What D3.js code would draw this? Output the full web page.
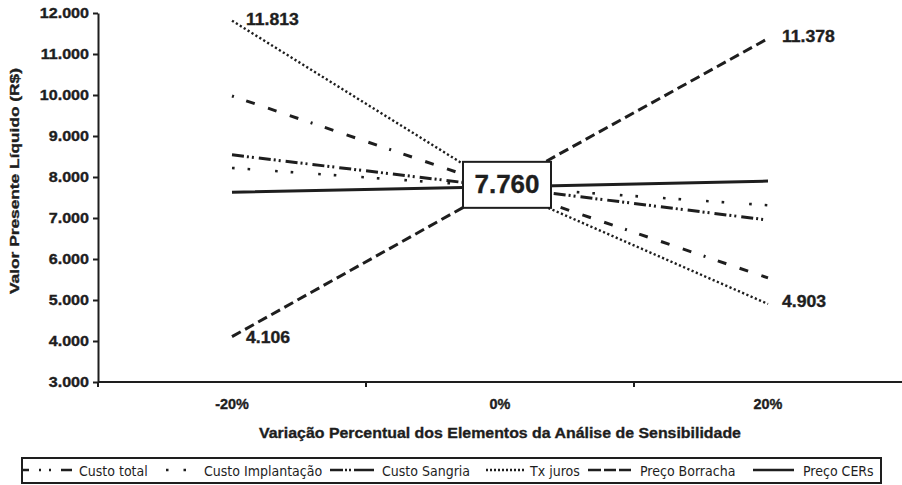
<!DOCTYPE html>
<html>
<head>
<meta charset="utf-8">
<script src="https://cdn.jsdelivr.net/npm/d3@7"></script>
<style>
  html, body { margin: 0; padding: 0; background: #fff; }
  svg { display: block; }
  .num { font-family: "Liberation Sans", Arial, sans-serif; font-weight: bold; fill: #1e1e1e;
         stroke: #1e1e1e; stroke-width: 0.35px; paint-order: stroke; }
  .leg { font-family: "DejaVu Sans Condensed", "DejaVu Sans", sans-serif; font-stretch: condensed; fill: #1e1e1e; }
</style>
</head>
<body>
<svg id="chart" width="902" height="485"></svg>
<script>
// Sensitivity scenarios along the x axis
const categories = ["-20%", "0%", "20%"];

// Net present value (R$) for each element at -20%, 0% and +20%
const custoTotal       = [9976, 7760, 5540];
const custoImplantacao = [8220, 7760, 7310];
const custoSangria     = [8540, 7760, 6950];
const txJuros          = [11813, 7760, 4903];
const precoBorracha    = [4106, 7760, 11378];
const precoCERs        = [7630, 7760, 7900];

const seriesNames = ["Custo total", "Custo Implantação", "Custo Sangria", "Tx juros", "Preço Borracha", "Preço CERs"];
const yTicks = [3000, 4000, 5000, 6000, 7000, 8000, 9000, 10000, 11000, 12000];
const baseValue = 7760;

const series = [
  { name: seriesNames[0], values: custoTotal },
  { name: seriesNames[1], values: custoImplantacao },
  { name: seriesNames[2], values: custoSangria },
  { name: seriesNames[3], values: txJuros },
  { name: seriesNames[4], values: precoBorracha },
  { name: seriesNames[5], values: precoCERs }
];

// Line styles per series: chart stroke pattern and legend sample pattern
const styles = {
  "Custo total":       { w: 3,   dash: "2,13,9,14,9,14,9,13", legDash: "6,10,2,8,2,10,11", legLen: 49 },
  "Custo Implantação": { w: 2.6, dash: "2.6,13,2.6,25",       legDash: "2.5,15,2.5",        legLen: 20 },
  "Custo Sangria":     { w: 3,   dash: "12,3,2,3,2,5",        legDash: "13,2,2,2,2,3,20",   legLen: 45 },
  "Tx juros":          { w: 2.4, dash: "2.2,2.4",             legDash: "2,2",               legLen: 40 },
  "Preço Borracha":    { w: 3,   dash: "10,5",                legDash: "13,3,12,3,12",      legLen: 44 },
  "Preço CERs":        { w: 3,   dash: null,                  legDash: null,                legLen: 41 }
};

const ink = "#1e1e1e";
const svg = d3.select("#chart");

const plot = { left: 98, right: 902, top: 13, bottom: 382 };

const x = d3.scaleBand().domain(categories).range([plot.left, plot.right]).paddingInner(0).paddingOuter(0);
const cx = c => x(c) + x.bandwidth() / 2;
const y = d3.scaleLinear().domain([3000, 12000]).range([plot.bottom, plot.top]);

const ptBR = d3.formatLocale({ decimal: ",", thousands: ".", grouping: [3], currency: ["R$", ""] });
const fmt = ptBR.format(",.0f");

// Stretch text horizontally by factor k (the face used here is a little narrower)
function widen(sel, k) {
  sel.each(function () {
    const w = this.getComputedTextLength();
    d3.select(this).attr("textLength", w * k).attr("lengthAdjust", "spacingAndGlyphs");
  });
}

// ---- y axis
const yAxis = svg.append("g")
  .attr("transform", `translate(${plot.left},0)`)
  .call(d3.axisLeft(y).tickValues(yTicks).tickFormat(fmt).tickSize(5).tickSizeOuter(0).tickPadding(4));
yAxis.select(".domain").attr("stroke", ink).attr("stroke-width", 2);
yAxis.selectAll(".tick line").attr("stroke", ink).attr("stroke-width", 2);
yAxis.selectAll(".tick text").attr("class", "num").style("font-size", "14px").call(widen, 1.15);

// ---- x axis: line, boundary ticks between categories, centred labels
const xg = svg.append("g").attr("transform", `translate(0,${plot.bottom})`);
xg.append("line").attr("x1", plot.left).attr("x2", plot.right)
  .attr("stroke", ink).attr("stroke-width", 2);
xg.selectAll("line.bt").data(categories).enter().append("line")
  .attr("class", "bt")
  .attr("x1", d => x(d)).attr("x2", d => x(d))
  .attr("y1", 0).attr("y2", 5)
  .attr("stroke", ink).attr("stroke-width", 2);
xg.selectAll("text").data(categories).enter().append("text")
  .attr("class", "num")
  .attr("x", d => cx(d)).attr("y", 27)
  .attr("text-anchor", "middle")
  .style("font-size", "14px")
  .text(d => d)
  .call(widen, 1.03);

// ---- axis titles
svg.append("text").attr("class", "num")
  .attr("transform", "translate(19,181) rotate(-90)")
  .attr("text-anchor", "middle")
  .attr("textLength", 226).attr("lengthAdjust", "spacingAndGlyphs")
  .style("font-size", "13.5px")
  .text("Valor Presente Líquido (R$)");

svg.append("text").attr("class", "num")
  .attr("x", 500).attr("y", 438)
  .attr("text-anchor", "middle")
  .style("font-size", "15px")
  .text("Variação Percentual dos Elementos da Análise de Sensibilidade")
  .call(widen, 1.06);

// ---- series lines
const line = d3.line().x(d => cx(d.c)).y(d => y(d.v));
series.forEach(s => {
  const st = styles[s.name];
  const pts = s.values.map((v, i) => ({ c: categories[i], v }));
  const p = svg.append("path")
    .datum(pts)
    .attr("d", line)
    .attr("fill", "none")
    .attr("stroke", ink)
    .attr("stroke-width", st.w);
  if (st.dash) p.attr("stroke-dasharray", st.dash);
});

// ---- base value box at 0%
const bw = 88, bh = 46;
const bx = cx("0%") + 7, by = y(baseValue) - 2;
svg.append("rect")
  .attr("x", bx - bw / 2).attr("y", by - bh / 2)
  .attr("width", bw).attr("height", bh)
  .attr("fill", "#fff").attr("stroke", ink).attr("stroke-width", 2);
svg.append("text").attr("class", "num")
  .attr("x", bx).attr("y", by + 1)
  .attr("text-anchor", "middle").attr("dominant-baseline", "middle")
  .style("font-size", "26px")
  .text(fmt(baseValue));

// ---- extreme value labels (Tx juros and Preço Borracha)
const endLabels = [
  { s: txJuros, i: 0, dy: 0 },
  { s: precoBorracha, i: 0, dy: 2 },
  { s: precoBorracha, i: 2, dy: -1 },
  { s: txJuros, i: 2, dy: -1 }
];
svg.selectAll("text.endlab").data(endLabels).enter().append("text")
  .attr("class", "num endlab")
  .attr("x", d => cx(categories[d.i]) + 14)
  .attr("y", d => y(d.s[d.i]) + d.dy)
  .attr("dominant-baseline", "middle")
  .style("font-size", "16px")
  .text(d => fmt(d.s[d.i]))
  .call(widen, 1.1);

// ---- legend
const legend = svg.append("g");
legend.append("rect")
  .attr("x", 22).attr("y", 458).attr("width", 859).attr("height", 25)
  .attr("fill", "#fff").attr("stroke", ink).attr("stroke-width", 2);
const legSampleX = [23, 166, 330, 486, 588, 753];
const legTextX = [79, 204, 382, 530, 640, 803];
seriesNames.forEach((n, i) => {
  const st = styles[n];
  const l = legend.append("line")
    .attr("x1", legSampleX[i]).attr("x2", legSampleX[i] + st.legLen)
    .attr("y1", 470).attr("y2", 470)
    .attr("stroke", ink).attr("stroke-width", 2.5);
  if (st.legDash) l.attr("stroke-dasharray", st.legDash);
  legend.append("text").attr("class", "leg")
    .attr("x", legTextX[i]).attr("y", 476)
    .style("font-size", "14px")
    .text(n);
});
</script>
</body>
</html>
